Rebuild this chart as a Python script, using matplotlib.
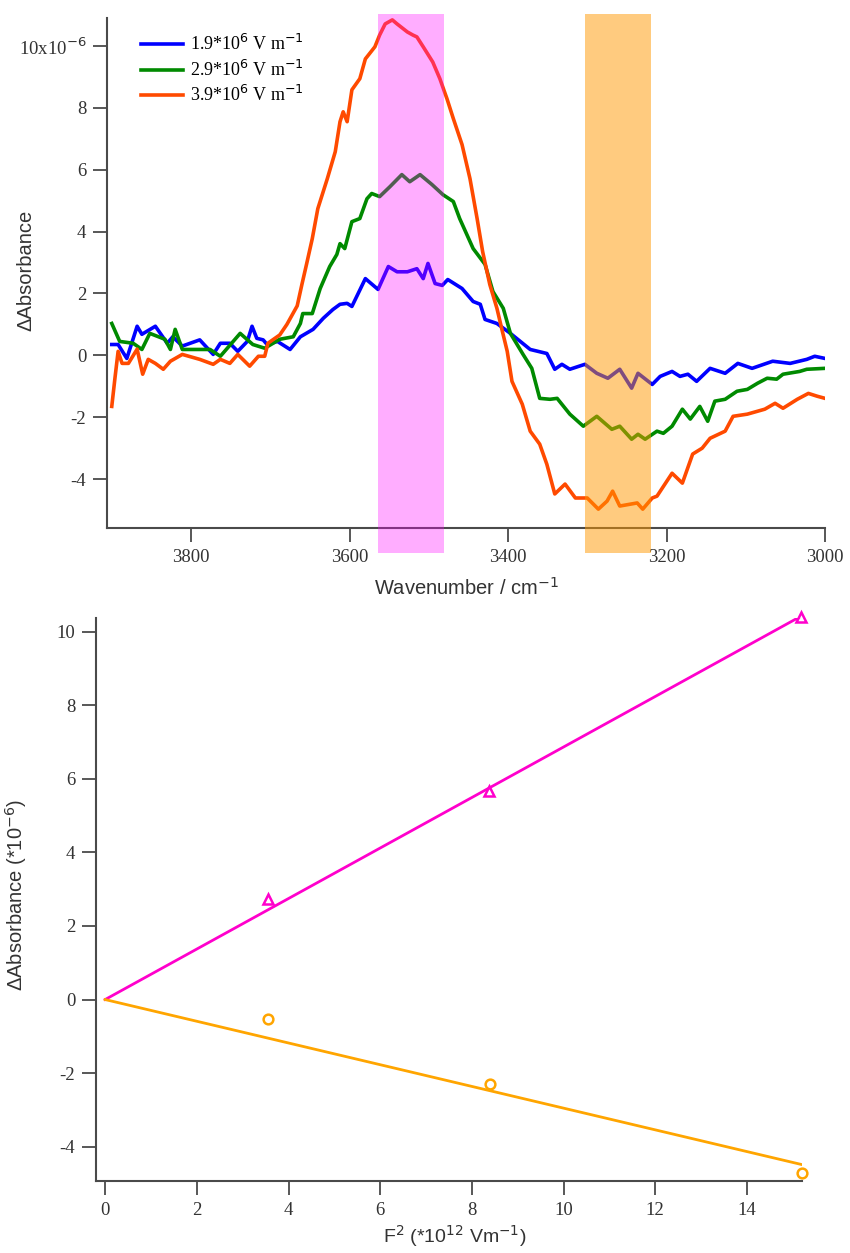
import matplotlib.pyplot as plt
import matplotlib.patches as mpatches
import numpy as np

# --- spectra (wavenumber / cm-1, dAbs in 1e-6) ---
wn_blue = [3900, 3892, 3881, 3868, 3862, 3845, 3830, 3823, 3811, 3789, 3772, 3763, 3751, 3741,
           3729, 3723, 3717, 3709, 3704, 3691, 3675, 3662, 3646, 3633, 3621, 3612, 3603, 3597,
           3580, 3564, 3551, 3540, 3527, 3515, 3507, 3501, 3492, 3483, 3476, 3458, 3444, 3435,
           3429, 3414, 3397, 3372, 3351, 3341, 3332, 3322, 3303, 3288, 3274, 3259, 3244, 3236,
           3218, 3208, 3193, 3183, 3173, 3162, 3145, 3126, 3110, 3092, 3066, 3044, 3023, 3013, 3000]
abs_blue = [0.35, 0.35, -0.1, 0.94, 0.68, 0.94, 0.39, 0.6, 0.3, 0.5, 0.03, 0.39, 0.39, 0.13,
            0.45, 0.94, 0.55, 0.5, 0.35, 0.45, 0.19, 0.6, 0.84, 1.2, 1.48, 1.65, 1.68, 1.58,
            2.48, 2.13, 2.87, 2.7, 2.7, 2.8, 2.48, 2.97, 2.32, 2.26, 2.45, 2.16, 1.74, 1.65,
            1.16, 1.03, 0.71, 0.19, 0.06, -0.45, -0.29, -0.45, -0.29, -0.58, -0.74, -0.45, -1.06, -0.58,
            -0.94, -0.68, -0.52, -0.68, -0.61, -0.84, -0.42, -0.58, -0.26, -0.42, -0.19, -0.26, -0.13, -0.03, -0.1]

wn_green = [3900, 3890, 3873, 3862, 3852, 3833, 3826, 3820, 3811, 3776, 3763, 3738, 3722, 3707,
            3688, 3671, 3662, 3659, 3647, 3637, 3625, 3616, 3612, 3606, 3597, 3587, 3578, 3572,
            3562, 3549, 3534, 3524, 3511, 3496, 3482, 3469, 3461, 3444, 3429, 3419, 3406, 3397,
            3381, 3370, 3360, 3347, 3338, 3322, 3305, 3288, 3269, 3259, 3244, 3236, 3227, 3212,
            3204, 3193, 3180, 3170, 3158, 3148, 3139, 3126, 3111, 3098, 3085, 3073, 3061, 3053,
            3032, 3023, 3000]
abs_green = [1.03, 0.45, 0.39, 0.19, 0.71, 0.52, 0.19, 0.84, 0.19, 0.19, -0.03, 0.71, 0.35, 0.23,
             0.52, 0.6, 1.03, 1.35, 1.35, 2.16, 2.87, 3.26, 3.61, 3.45, 4.32, 4.42, 5.06, 5.23,
             5.13, 5.45, 5.84, 5.61, 5.84, 5.52, 5.19, 4.97, 4.42, 3.45, 2.94, 2.06, 1.52, 0.71,
             0.03, -0.42, -1.39, -1.42, -1.39, -1.9, -2.29, -1.97, -2.39, -2.29, -2.71, -2.55, -2.71, -2.45,
             -2.52, -2.29, -1.74, -2.06, -1.65, -2.13, -1.48, -1.42, -1.16, -1.1, -0.9, -0.74, -0.77, -0.61,
             -0.52, -0.45, -0.42]

wn_red = [3900, 3896, 3892, 3887, 3879, 3868, 3861, 3854, 3845, 3835, 3826, 3811, 3789, 3772,
          3763, 3751, 3741, 3726, 3715, 3707, 3703, 3688, 3679, 3666, 3660, 3654, 3647, 3640,
          3628, 3618, 3612, 3608, 3603, 3597, 3587, 3580, 3568, 3562, 3555, 3546, 3540, 3527,
          3520, 3515, 3507, 3495, 3486, 3477, 3469, 3458, 3448, 3439, 3432, 3423, 3414, 3408,
          3401, 3395, 3382, 3372, 3360, 3351, 3341, 3328, 3315, 3300, 3286, 3275, 3268, 3259,
          3237, 3230, 3218, 3212, 3193, 3180, 3167, 3155, 3145, 3126, 3116, 3098, 3076, 3063,
          3053, 3035, 3021, 3010, 3000]
abs_red = [-1.65, -0.74, 0.13, -0.26, -0.26, 0.2, -0.61, -0.13, -0.26, -0.45, -0.19, 0.03, -0.13, -0.29,
           -0.13, -0.26, 0.03, -0.35, -0.03, -0.03, 0.39, 0.66, 1.0, 1.6, 2.3, 2.97, 3.77, 4.74,
           5.71, 6.58, 7.55, 7.87, 7.55, 8.58, 8.94, 9.58, 9.97, 10.35, 10.71, 10.84, 10.71, 10.45,
           10.35, 10.29, 9.97, 9.48, 8.94, 8.29, 7.65, 6.81, 5.71, 4.42, 3.35, 2.29, 1.52, 0.87,
           0.13, -0.84, -1.58, -2.45, -2.87, -3.52, -4.48, -4.16, -4.61, -4.61, -4.97, -4.71, -4.39, -4.87,
           -4.77, -4.97, -4.61, -4.55, -3.81, -4.13, -3.19, -3.0, -2.68, -2.45, -1.97, -1.9, -1.74, -1.55,
           -1.71, -1.42, -1.23, -1.32, -1.39]

labels_spec = ["1.9*10$^{6}$ V m$^{-1}$", "2.9*10$^{6}$ V m$^{-1}$", "3.9*10$^{6}$ V m$^{-1}$"]
colors_spec = ["#0000ff", "#008a00", "#ff4a00"]

band_pink = (3564, 3481)
band_orange = (3303, 3220)

# --- field dependence ---
f2 = [3.56, 8.38, 15.18]
peak_abs = [2.72, 5.67, 10.4]
f2_o = [3.56, 8.4, 15.2]
dip_abs = [-0.54, -2.29, -4.71]

serif = "Liberation Serif"
sans = "Liberation Sans"
axcol = "#4a4a4a"
txtcol = "#333333"

fig = plt.figure(figsize=(8.5, 12.53), dpi=100)
ax1 = fig.add_axes([0.1259, 0.5786, 0.8447, 0.4070])
ax2 = fig.add_axes([0.1129, 0.0575, 0.8306, 0.4493])

for ax in (ax1, ax2):
    for s in ("top", "right"):
        ax.spines[s].set_visible(False)
    for s in ("left", "bottom"):
        ax.spines[s].set_color(axcol)
        ax.spines[s].set_linewidth(1.5)
    ax.tick_params(direction="out", length=10, width=1.3, color=axcol, labelsize=13.5,
                   labelcolor=txtcol, pad=5)

# top: spectra
for wn, a, c, lab in zip([wn_blue, wn_green, wn_red], [abs_blue, abs_green, abs_red],
                         colors_spec, labels_spec):
    ax1.plot(wn, a, color=c, lw=2.6, label=lab, zorder=2)

ax1.set_xlim(3906, 3000)
ax1.set_ylim(-5.58, 10.9)
ax1.set_xticks([3800, 3600, 3400, 3200, 3000])
ax1.set_yticks([-4, -2, 0, 2, 4, 6, 8, 10])
ax1.set_yticklabels(["-4", "-2", "0", "2", "4", "6", "8", "10x10$^{-6}$"], family=serif)
ax1.set_xticklabels(["3800", "3600", "3400", "3200", "3000"], family=serif)

trans = ax1.get_xaxis_transform()
for (a, b), col, al in [(band_pink, "#ff00ff", 0.32), (band_orange, "#ff9900", 0.5)]:
    ax1.add_patch(mpatches.Rectangle((a, -0.049), b - a, 1.057, transform=trans,
                                     facecolor=col, alpha=al, edgecolor="none",
                                     clip_on=False, zorder=3))

ax1.set_ylabel("\u0394Absorbance", family=sans, fontsize=14.5, color=txtcol)
ax1.yaxis.set_label_coords(-0.1, 0.506)
ax1.set_xlabel("Wavenumber / cm$^{-1}$", family=sans, fontsize=14.5, color=txtcol)
ax1.xaxis.set_label_coords(0.5, -0.095)

leg = ax1.legend(loc="upper left", bbox_to_anchor=(0.025, 1.0), frameon=False,
                 prop={"family": serif, "size": 13}, handlelength=2.3,
                 handletextpad=0.4, labelspacing=0.3)

# bottom: dAbs vs F^2 with fits through origin
f2a = np.array(f2)
pa = np.array(peak_abs)
f2b = np.array(f2_o)
da = np.array(dip_abs)
k_peak = np.sum(f2a * pa) / np.sum(f2a ** 2)
k_dip = np.sum(f2b * da) / np.sum(f2b ** 2)
xfit = np.array([0, 15.2])

ax2.plot(xfit, k_peak * xfit, color="#ff00cc", lw=2)
ax2.plot(xfit, k_dip * xfit, color="#ffa500", lw=2)
ax2.plot(f2, peak_abs, "^", ms=7, mfc="none", mec="#ff00cc", mew=1.8, clip_on=False)
ax2.plot(f2_o, dip_abs, "o", ms=7, mfc="none", mec="#ffa500", mew=1.8, clip_on=False)

ax2.set_xlim(-0.2, 15.2)
ax2.set_ylim(-4.93, 10.37)
ax2.set_xticks([0, 2, 4, 6, 8, 10, 12, 14])
ax2.set_xticklabels(["0", "2", "4", "6", "8", "10", "12", "14"], family=serif)
ax2.set_yticks([-4, -2, 0, 2, 4, 6, 8, 10])
ax2.set_yticklabels(["-4", "-2", "0", "2", "4", "6", "8", "10"], family=serif)

ax2.set_ylabel("\u0394Absorbance (*10$^{-6}$)", family=sans, fontsize=14.5, color=txtcol)
ax2.yaxis.set_label_coords(-0.095, 0.508)
ax2.set_xlabel("F$^{2}$ (*10$^{12}$ Vm$^{-1}$)", family=sans, fontsize=14, color=txtcol)
ax2.xaxis.set_label_coords(0.508, -0.075)

fig.savefig("out.png", dpi=100)
